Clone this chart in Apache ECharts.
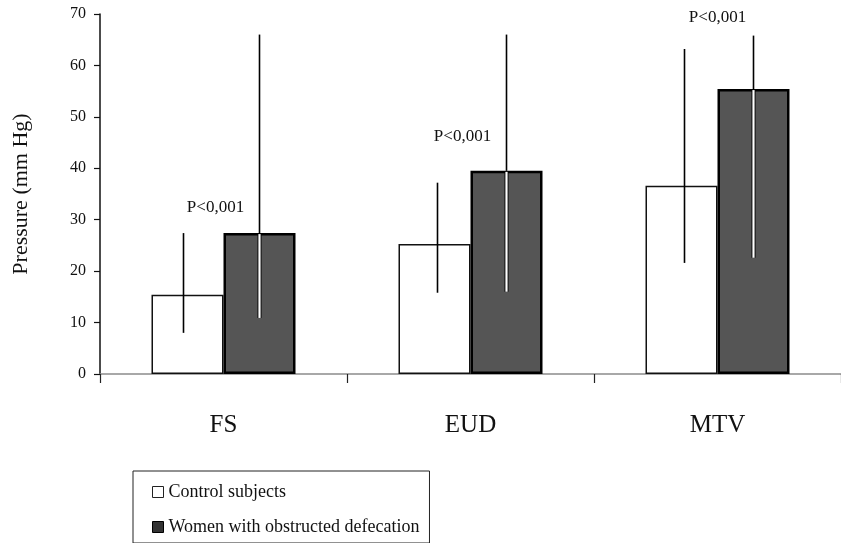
<!DOCTYPE html>
<html>
<head>
<meta charset="utf-8">
<script src="https://cdn.jsdelivr.net/npm/echarts@6/dist/echarts.min.js"></script>
<style>
html,body{margin:0;padding:0;background:#fff;}
#chart{width:841px;height:543px;}
</style>
</head>
<body>
<div id="chart"></div>
<script>
// ---- data ----
var categories = ['FS', 'EUD', 'MTV'];
var seriesNames = ['Control subjects', 'Women with obstructed defecation'];
var controlMean = [15.4, 25.3, 36.6];
var womenMean = [27.4, 39.5, 55.4];
var controlLow = [8.0, 15.8, 21.6];
var controlHigh = [27.4, 37.2, 63.2];
var womenLow = [10.9, 16.0, 22.6];
var womenHigh = [66.0, 66.0, 65.8];
var pLabels = ['P<0,001', 'P<0,001', 'P<0,001'];
var pLabelY = [32.3, 46.1, 69.3];
var yTicks = [0, 10, 20, 30, 40, 50, 60, 70];

// ---- rendering ----
var FONT = '"Liberation Serif", "Times New Roman", serif';
var BAR_W = 72;
var pDx = [-8, -8, 0];
var ctrlErrDx = [-4, 3, 3];

var chart = echarts.init(document.getElementById('chart'), null, {renderer: 'canvas'});

function errRender(means, lows, highs, side, innerWhite, dxs) {
  return function (params, api) {
    var i = api.value(0);
    var cx = api.coord([i, 0])[0] + side * BAR_W / 2 + (dxs ? dxs[i] : 0);
    var top = api.coord([i, highs[i]])[1];
    var bot = api.coord([i, lows[i]])[1];
    var barTop = api.coord([i, means[i]])[1];
    var children = [];
    if (innerWhite) {
      children.push({type: 'line', shape: {x1: cx, y1: top, x2: cx, y2: barTop}, style: {stroke: '#000', lineWidth: 1.6}});
      children.push({type: 'line', shape: {x1: cx, y1: barTop + 1, x2: cx, y2: bot}, style: {stroke: '#000', lineWidth: 4}});
      children.push({type: 'line', shape: {x1: cx, y1: barTop + 1, x2: cx, y2: bot}, style: {stroke: '#fff', lineWidth: 2.2}});
    } else {
      children.push({type: 'line', shape: {x1: cx, y1: top, x2: cx, y2: bot}, style: {stroke: '#000', lineWidth: 1.6}});
    }
    return {type: 'group', children: children};
  };
}

var option = {
  backgroundColor: '#fff',
  animation: false,
  grid: {left: 100, top: 14, width: 745, height: 360, containLabel: false},
  legend: {
    orient: 'vertical',
    left: 133,
    top: 471,
    padding: [11, 10, 6, 19],
    itemGap: 15,
    itemWidth: 11,
    itemHeight: 11,
    borderColor: '#222',
    borderWidth: 1,
    textStyle: {fontFamily: FONT, fontSize: 18, color: '#111', lineHeight: 20},
    data: [
      {name: seriesNames[0], icon: 'rect', itemStyle: {color: '#fff', borderColor: '#222', borderWidth: 1}},
      {name: seriesNames[1], icon: 'rect', itemStyle: {color: '#333', borderColor: '#000', borderWidth: 1}}
    ]
  },
  xAxis: {
    type: 'category',
    data: categories,
    boundaryGap: true,
    axisLine: {lineStyle: {color: '#8c8c8c', width: 1.5}},
    axisTick: {show: true, length: 9, lineStyle: {color: '#222', width: 1.2}},
    axisLabel: {fontFamily: FONT, fontSize: 25, color: '#111', margin: 39}
  },
  yAxis: {
    type: 'value',
    min: yTicks[0],
    max: yTicks[yTicks.length - 1],
    interval: 10,
    name: 'Pressure (mm Hg)',
    nameLocation: 'middle',
    nameGap: 68,
    nameRotate: 90,
    nameTextStyle: {fontFamily: FONT, fontSize: 22, color: '#111'},
    splitLine: {show: false},
    axisLine: {show: true, lineStyle: {color: '#111', width: 1.5}},
    axisTick: {show: true, length: 6, lineStyle: {color: '#111', width: 1.2}},
    axisLabel: {fontFamily: FONT, fontSize: 16, color: '#111', margin: 14}
  },
  series: [
    {
      name: seriesNames[0],
      type: 'bar',
      data: controlMean,
      barWidth: BAR_W,
      barGap: '0%',
      itemStyle: {color: '#fff', borderColor: '#111', borderWidth: 1.5}
    },
    {
      name: seriesNames[1],
      type: 'bar',
      data: womenMean,
      barWidth: BAR_W,
      barGap: '0%',
      itemStyle: {color: '#555', borderColor: '#000', borderWidth: 2.5}
    },
    {
      type: 'custom',
      data: categories.map(function (c, i) { return [i]; }),
      renderItem: errRender(controlMean, controlLow, controlHigh, -1, false, ctrlErrDx),
      z: 5, silent: true
    },
    {
      type: 'custom',
      data: categories.map(function (c, i) { return [i]; }),
      renderItem: errRender(womenMean, womenLow, womenHigh, 1, true, null),
      z: 5, silent: true
    },
    {
      type: 'custom',
      data: categories.map(function (c, i) { return [i, pLabelY[i]]; }),
      renderItem: function (params, api) {
        var i = api.value(0);
        var p = api.coord([i, api.value(1)]);
        return {
          type: 'text',
          x: p[0] + pDx[i], y: p[1],
          style: {text: pLabels[i], fontFamily: FONT, fontSize: 17, fill: '#111', align: 'center', verticalAlign: 'middle'}
        };
      },
      z: 6, silent: true
    }
  ]
};
chart.setOption(option);
</script>
</body>
</html>
